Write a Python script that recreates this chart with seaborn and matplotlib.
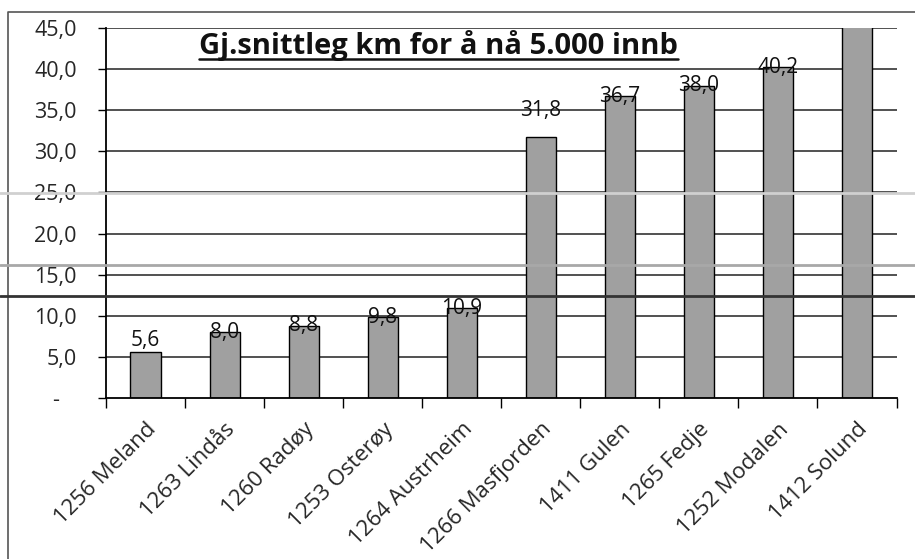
import matplotlib
matplotlib.use("Agg")
import matplotlib.pyplot as plt
from matplotlib.lines import Line2D
import seaborn as sns
import pandas as pd

# values (Solund is cut off above 45)
kommuner = ['1256 Meland', '1263 Lindås', '1260 Radøy', '1253 Osterøy', '1264 Austrheim',
            '1266 Masfjorden', '1411 Gulen', '1265 Fedje', '1252 Modalen', '1412 Solund']
km = [5.6, 8.0, 8.8, 9.8, 10.9, 31.8, 36.7, 38.0, 40.2, 48.0]
y_ticks = [0, 5, 10, 15, 20, 25, 30, 35, 40, 45]
title = 'Gj.snittleg km for å nå 5.000 innb'

# label offsets (data units) as the labels sit in the picture
label_shift = [1.4, 0, 0, 0, 0, 3.2, 0, 0, 0, 0]

df = pd.DataFrame({'Kommune': kommuner, 'Km': km})

sns.set_theme(style="white")
plt.rcParams['font.family'] = ['Open Sans', 'DejaVu Sans']

fig = plt.figure(figsize=(9.15, 5.59), dpi=100)
ax = fig.add_axes([0.1158, 0.288, 0.864, 0.662])

sns.barplot(data=df, x='Kommune', y='Km', color='#a0a0a0', saturation=1,
            edgecolor='black', linewidth=1.0, width=0.38, ax=ax)

ax.set_ylim(0, 45)
ax.set_xlim(-0.5, len(kommuner) - 0.5)
ax.set_yticks(y_ticks)
ax.set_yticklabels(['-   ' if v == 0 else f'{v:.1f}'.replace('.', ',') for v in y_ticks], fontsize=15.5)
for v in y_ticks[1:]:
    ax.axhline(v, color='#222222', lw=1.1, zorder=0)

ax.set_xticks(range(len(kommuner)))
ax.set_xticklabels(kommuner, rotation=45, ha='right', rotation_mode='anchor', fontsize=16)
ax.tick_params(axis='x', which='major', length=0, pad=15)
ax.set_xticks([i - 0.5 for i in range(len(kommuner) + 1)], minor=True)
ax.tick_params(axis='x', which='minor', length=7, width=1, color='black', direction='out', bottom=True)
ax.tick_params(axis='y', length=6, width=1, color='black', direction='out', left=True, pad=15)
ax.set_xlabel('')
ax.set_ylabel('')

for s in ['top', 'right']:
    ax.spines[s].set_visible(False)
for s in ['left', 'bottom']:
    ax.spines[s].set_color('black')
    ax.spines[s].set_linewidth(1.3)

# data labels
for i, v in enumerate(km):
    if v <= 45:
        ax.text(i, v + label_shift[i], f'{v:.1f}'.replace('.', ','), ha='center', va='center',
                fontsize=15, color='#111111')

# underlined bold title
t = ax.text(0.421, 0.952, title, transform=ax.transAxes, ha='center', va='center',
            fontsize=21, fontweight='bold', color='#111111')
fig.canvas.draw()
bb = t.get_window_extent().transformed(fig.transFigure.inverted())
fig.add_artist(Line2D([bb.x0, bb.x1], [bb.y0 + 0.004, bb.y0 + 0.004], transform=fig.transFigure,
                      color='#111111', lw=1.8))

# scan border and scan streaks
fig.add_artist(Line2D([0.009, 0.009, 1.0], [0.0, 0.979, 0.979], transform=fig.transFigure,
                      color='#555555', lw=1.2))
fig.add_artist(Line2D([0, 1], [1 - 193 / 559] * 2, transform=fig.transFigure, color='#d0d0d0', lw=2))
fig.add_artist(Line2D([0, 1], [1 - 265 / 559] * 2, transform=fig.transFigure, color='#a8a8a8', lw=2))
fig.add_artist(Line2D([0, 1], [1 - 296 / 559] * 2, transform=fig.transFigure, color='#333333', lw=2))

fig.savefig('out.png', dpi=100)
